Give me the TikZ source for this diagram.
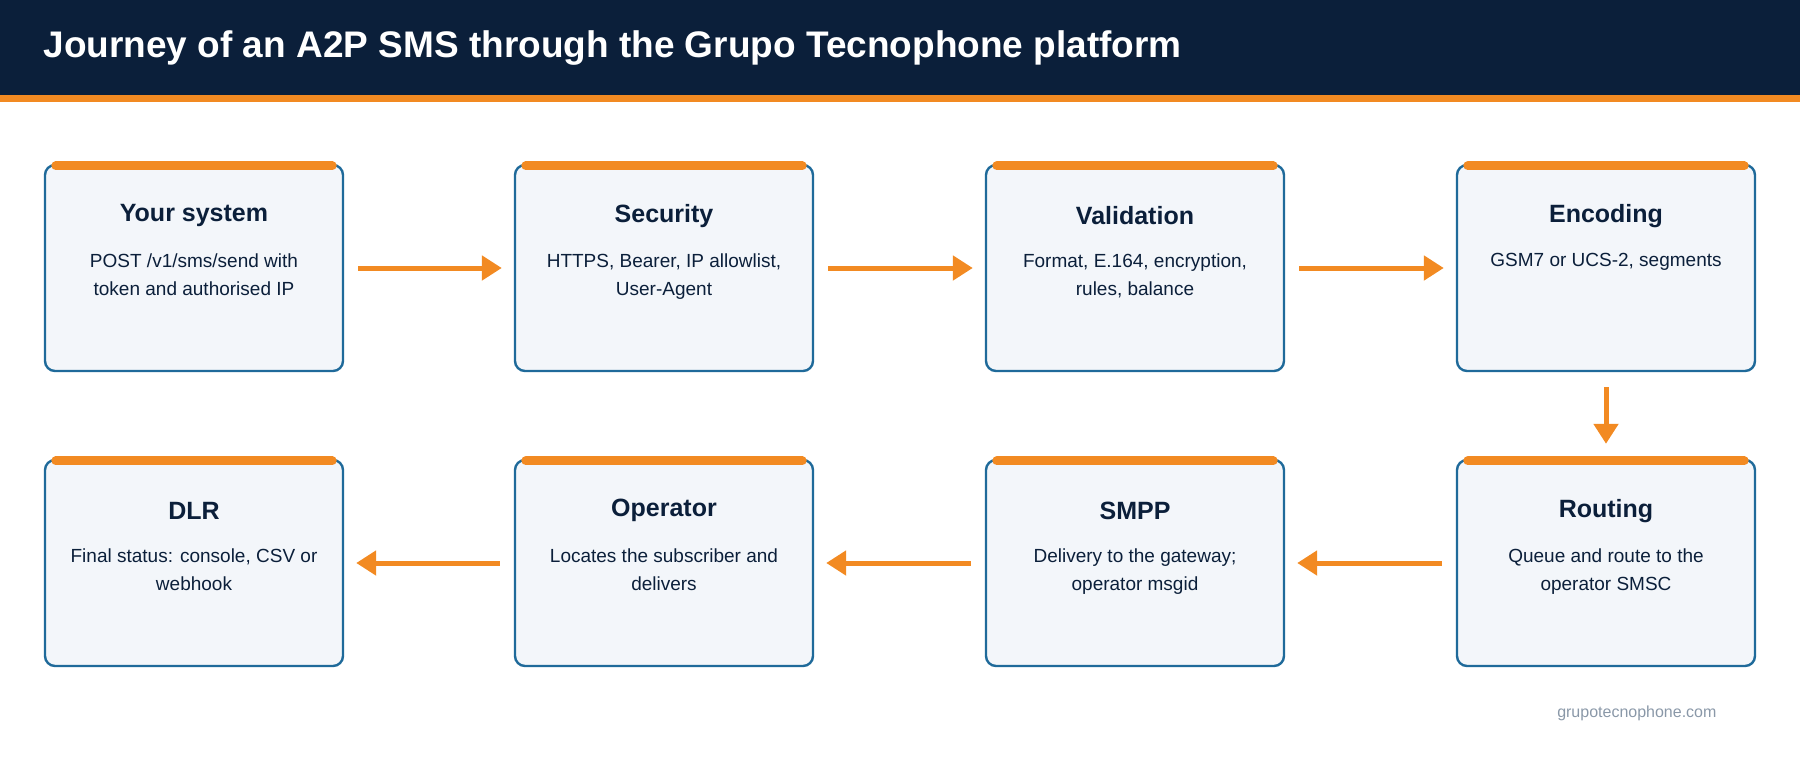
\documentclass[tikz,border=0pt]{standalone}
\usepackage{fontspec}
\setmainfont{Liberation Sans}
\usetikzlibrary{calc, positioning, arrows.meta}
\definecolor{navy}{HTML}{0B1F3A}
\definecolor{accent}{HTML}{F28A22}
\definecolor{boxfill}{HTML}{F3F6FA}
\definecolor{boxline}{HTML}{1F6A9A}
\definecolor{footgray}{HTML}{8A98A8}
\tikzset{
    stage/.style={draw=boxline, line width=2.4pt, fill=boxfill, rounded corners=10pt, minimum width=298pt, minimum height=206pt, inner sep=0pt},
    stagehead/.style={font=\bfseries\fontsize{25}{29}\selectfont, text=navy},
    stagebody/.style={font=\fontsize{19}{28}\selectfont, text=navy, align=center, anchor=north},
    flow/.style={draw=accent, line width=5pt, -{Triangle[length=20pt, width=24pt]}}
}
\newcommand{\stagebox}[5]{%
    \node [stage] (#1) at (#2) {};
    \draw [accent, line width=9pt, line cap=round] ($(#1.north west)+(12pt,-2pt)$) -- ($(#1.north east)+(-12pt,-2pt)$);
    \node [stagehead] (#1-t) at ($(#1.north)+(0,-52pt)$) {#3};
    \node [stagebody] (#1-b) at ($(#1.north)+(0,-86pt)$) {#4\\#5};
}
\begin{document}
\begin{tikzpicture}[x=1pt, y=-1pt]
        \useasboundingbox (0,0) rectangle (1800,758);
        \fill [navy] (0,0) rectangle (1800,95);
        \fill [accent] (0,95) rectangle (1800,102);
        \node [anchor=west, text=white, font=\bfseries\fontsize{37}{42}\selectfont] (title) at (40,48) {Journey of an A2P SMS through the Grupo Tecnophone platform};
        \stagebox{sys}{194,268}{Your system}{POST /v1/sms/send with}{token and authorised IP}
        \stagebox{sec}{664,268}{Security}{HTTPS, Bearer, IP allowlist,}{User-Agent}
        \stagebox{val}{1135,268}{Validation}{Format, E.164, encryption,}{rules, balance}
        \stagebox{enc}{1606,268}{Encoding}{GSM7 or UCS-2, segments}{\strut}
        \stagebox{rou}{1606,563}{Routing}{Queue and route to the}{operator SMSC}
        \stagebox{smp}{1135,563}{SMPP}{Delivery to the gateway;}{operator msgid}
        \stagebox{opr}{664,563}{Operator}{Locates the subscriber and}{delivers}
        \stagebox{dlr}{194,563}{DLR}{Final status: console, CSV or}{webhook}
        \draw [flow] ($(sys.east)+(14pt,0)$) -- ($(sec.west)+(-12pt,0)$);
        \draw [flow] ($(sec.east)+(14pt,0)$) -- ($(val.west)+(-12pt,0)$);
        \draw [flow] ($(val.east)+(14pt,0)$) -- ($(enc.west)+(-12pt,0)$);
        \draw [flow] ($(enc.south)+(0,-15pt)$) -- ($(rou.north)+(0,15pt)$);
        \draw [flow] ($(rou.west)+(-14pt,0)$) -- ($(smp.east)+(12pt,0)$);
        \draw [flow] ($(smp.west)+(-14pt,0)$) -- ($(opr.east)+(12pt,0)$);
        \draw [flow] ($(opr.west)+(-14pt,0)$) -- ($(dlr.east)+(12pt,0)$);
        \node [anchor=east, text=footgray, font=\fontsize{16}{20}\selectfont] (site) at (1720,713) {grupotecnophone.com};
\end{tikzpicture}
\end{document}
